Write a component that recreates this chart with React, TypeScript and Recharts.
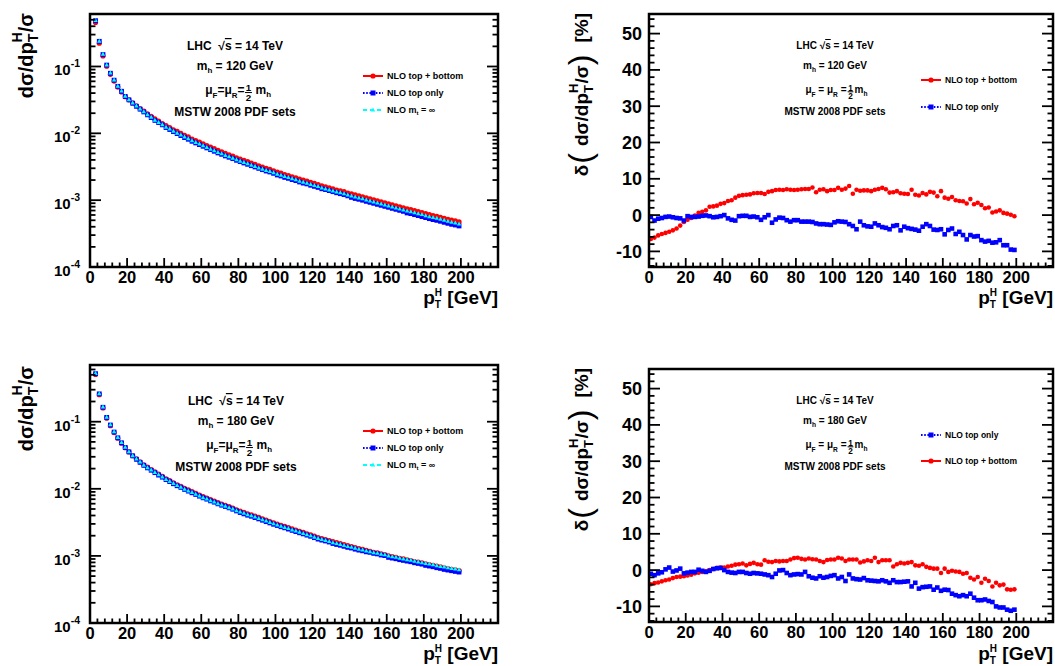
import React from 'react';
import { ScatterChart, Scatter, XAxis, YAxis } from 'recharts';

const FONT = "'Liberation Sans', Arial, Helvetica, sans-serif";
const W = 1055;
const H = 666;

// pT bin centres [GeV]
const PT = [
  1, 3, 5, 7, 9, 11, 13, 15, 17, 19, 21, 23, 25, 27, 29, 31, 33, 35, 37, 39,
  41, 43, 45, 47, 49, 51, 53, 55, 57, 59, 61, 63, 65, 67, 69, 71, 73, 75, 77, 79,
  81, 83, 85, 87, 89, 91, 93, 95, 97, 99, 101, 103, 105, 107, 109, 111, 113, 115, 117, 119,
  121, 123, 125, 127, 129, 131, 133, 135, 137, 139, 141, 143, 145, 147, 149, 151, 153, 155, 157, 159,
  161, 163, 165, 167, 169, 171, 173, 175, 177, 179, 181, 183, 185, 187, 189, 191, 193, 195, 197, 199,
];
// the distribution panels start at the second bin
const PT_DIST = PT.slice(1);

const X_TICKS = [
  0, 4, 8, 12, 16, 20, 24, 28, 32, 36, 40, 44, 48, 52, 56, 60, 64, 68, 72, 76, 80, 84, 88, 92, 96,
  100, 104, 108, 112, 116, 120, 124, 128, 132, 136, 140, 144, 148, 152, 156, 160, 164, 168, 172,
  176, 180, 184, 188, 192, 196, 200, 204, 208, 212, 216,
];
const LOG_TICKS_120 = [
  0.0001, 0.0002, 0.0003, 0.0004, 0.0005, 0.0006, 0.0007, 0.0008, 0.0009,
  0.001, 0.002, 0.003, 0.004, 0.005, 0.006, 0.007, 0.008, 0.009,
  0.01, 0.02, 0.03, 0.04, 0.05, 0.06, 0.07, 0.08, 0.09,
  0.1, 0.2, 0.3, 0.4, 0.5,
];
const LOG_TICKS_180 = [...LOG_TICKS_120, 0.6];
const DELTA_TICKS = [
  -14, -12, -10, -8, -6, -4, -2, 0, 2, 4, 6, 8, 10, 12, 14, 16, 18, 20, 22, 24, 26, 28, 30,
  32, 34, 36, 38, 40, 42, 44, 46, 48, 50, 52, 54,
];

// mh = 120 GeV, normalised distribution (bins 3..199)
const DIST120_TB = [
  0.456, 0.223, 0.144, 0.101, 0.0764, 0.0605, 0.0492, 0.0417, 0.0353, 0.0317,
  0.0285, 0.0258, 0.0234, 0.0215, 0.0196, 0.0179, 0.0164, 0.0152, 0.014, 0.013,
  0.0122, 0.0113, 0.0107, 0.00996, 0.00934, 0.00882, 0.00823, 0.00777, 0.00737, 0.00695,
  0.00657, 0.0062, 0.00589, 0.00555, 0.0053, 0.00501, 0.00478, 0.00457, 0.00431, 0.00412,
  0.00393, 0.00376, 0.00358, 0.00342, 0.00326, 0.00312, 0.00299, 0.00288, 0.00275, 0.00262,
  0.00254, 0.00242, 0.00234, 0.00224, 0.00216, 0.00207, 0.00199, 0.00193, 0.00184, 0.00178,
  0.00171, 0.00164, 0.00158, 0.00153, 0.00148, 0.00142, 0.00138, 0.00134, 0.00128, 0.00124,
  0.0012, 0.00116, 0.00112, 0.00108, 0.00105, 0.00101, 0.000976, 0.000943, 0.000911, 0.00088,
  0.00085, 0.000821, 0.000793, 0.000766, 0.00074, 0.000723, 0.000699, 0.000675, 0.000653, 0.00063,
  0.000609, 0.000589, 0.000575, 0.000555, 0.000536, 0.000518, 0.000501, 0.000489, 0.000473,
];
const DIST120_T = [
  0.485, 0.238, 0.151, 0.105, 0.0792, 0.0624, 0.0505, 0.0426, 0.0356, 0.0317,
  0.0282, 0.0254, 0.023, 0.0209, 0.0189, 0.0172, 0.0156, 0.0145, 0.0134, 0.0122,
  0.0114, 0.0106, 0.0099, 0.00925, 0.00863, 0.00815, 0.0076, 0.00718, 0.00678, 0.0064,
  0.00605, 0.0057, 0.00539, 0.00509, 0.00485, 0.00459, 0.00438, 0.00418, 0.00395, 0.00377,
  0.0036, 0.00344, 0.00328, 0.00314, 0.00299, 0.00286, 0.00273, 0.00264, 0.00252, 0.00238,
  0.0023, 0.00219, 0.00212, 0.00203, 0.00196, 0.00187, 0.0018, 0.00175, 0.00167, 0.00161,
  0.00155, 0.00148, 0.00144, 0.00139, 0.00134, 0.00129, 0.00125, 0.00121, 0.00116, 0.0011,
  0.00106, 0.00103, 0.000998, 0.00096, 0.000928, 0.000897, 0.000866, 0.000837, 0.000808, 0.000781,
  0.000754, 0.000729, 0.000704, 0.00068, 0.000644, 0.000629, 0.000607, 0.000587, 0.000567, 0.000548,
  0.000529, 0.000512, 0.000499, 0.000483, 0.000466, 0.00045, 0.000435, 0.000425, 0.000411,
];
const DIST120_MINF = [
  0.49, 0.24, 0.153, 0.106, 0.08, 0.063, 0.051, 0.043, 0.036, 0.032,
  0.0285, 0.0257, 0.0232, 0.0211, 0.0191, 0.0174, 0.0158, 0.0146, 0.0135, 0.0124,
  0.0116, 0.0108, 0.0101, 0.00944, 0.00881, 0.00832, 0.00776, 0.00733, 0.00692, 0.00653,
  0.00617, 0.00582, 0.0055, 0.00519, 0.00495, 0.00468, 0.00447, 0.00427, 0.00403, 0.00385,
  0.00367, 0.00351, 0.00335, 0.0032, 0.00305, 0.00292, 0.00279, 0.00269, 0.00257, 0.00245,
  0.00237, 0.00226, 0.00219, 0.00209, 0.00202, 0.00193, 0.00186, 0.0018, 0.00172, 0.00166,
  0.0016, 0.00153, 0.00148, 0.00143, 0.00138, 0.00133, 0.00129, 0.00125, 0.0012, 0.00116,
  0.00112, 0.00108, 0.00105, 0.00101, 0.000977, 0.000944, 0.000912, 0.000881, 0.000851, 0.000822,
  0.000794, 0.000767, 0.000741, 0.000716, 0.000692, 0.000676, 0.000653, 0.000631, 0.00061, 0.000589,
  0.000569, 0.00055, 0.000537, 0.000519, 0.000501, 0.000484, 0.000468, 0.000457, 0.000442,
];

// mh = 180 GeV
const DIST180_TB = [
  0.505, 0.253, 0.16, 0.113, 0.0872, 0.0688, 0.0567, 0.0479, 0.041, 0.0355,
  0.0311, 0.0279, 0.0252, 0.0228, 0.021, 0.0194, 0.0179, 0.0165, 0.0153, 0.0141,
  0.0132, 0.0123, 0.0115, 0.0109, 0.0102, 0.00961, 0.00907, 0.00857, 0.00809, 0.00763,
  0.00729, 0.00688, 0.00657, 0.00621, 0.00592, 0.00567, 0.00541, 0.00516, 0.00487, 0.00466,
  0.00445, 0.00424, 0.0041, 0.00391, 0.00374, 0.00357, 0.00341, 0.00325, 0.00311, 0.00299,
  0.00286, 0.00275, 0.00264, 0.00252, 0.00242, 0.00233, 0.00224, 0.00214, 0.00206, 0.00197,
  0.00187, 0.00181, 0.00175, 0.00169, 0.00163, 0.00158, 0.00152, 0.00147, 0.00142, 0.00138,
  0.00133, 0.00129, 0.00125, 0.00121, 0.00117, 0.00113, 0.00111, 0.00107, 0.00105, 0.001,
  0.000977, 0.000955, 0.000923, 0.000902, 0.000872, 0.000852, 0.000824, 0.000805, 0.000786, 0.00076,
  0.000744, 0.000726, 0.000702, 0.000686, 0.000663, 0.000648, 0.000633, 0.000619, 0.000602,
];
const DIST180_T = [
  0.52, 0.26, 0.164, 0.116, 0.0893, 0.0701, 0.0576, 0.0485, 0.0413, 0.0355,
  0.031, 0.0276, 0.0248, 0.0224, 0.0205, 0.0189, 0.0174, 0.016, 0.0149, 0.0137,
  0.0128, 0.0119, 0.0111, 0.0105, 0.00979, 0.00924, 0.00872, 0.00824, 0.00777, 0.00734,
  0.00701, 0.00661, 0.00632, 0.00597, 0.00569, 0.00545, 0.0052, 0.00496, 0.00468, 0.00443,
  0.00423, 0.00404, 0.0039, 0.00372, 0.00356, 0.0034, 0.00324, 0.0031, 0.00296, 0.00284,
  0.00272, 0.00262, 0.00251, 0.0024, 0.0023, 0.00221, 0.00213, 0.00204, 0.00196, 0.00187,
  0.00178, 0.00172, 0.00167, 0.00161, 0.00153, 0.00148, 0.00144, 0.00139, 0.00134, 0.00131,
  0.00126, 0.00122, 0.00119, 0.00115, 0.00113, 0.00109, 0.00107, 0.00103, 0.00101, 0.00095,
  0.000928, 0.000907, 0.000877, 0.000857, 0.000837, 0.000818, 0.00079, 0.000772, 0.000754, 0.000722,
  0.000706, 0.000689, 0.000666, 0.000651, 0.000629, 0.000615, 0.000601, 0.000587, 0.000574,
];
const DIST180_MINF = [
  0.525, 0.263, 0.166, 0.117, 0.0902, 0.0708, 0.0582, 0.049, 0.0417, 0.0359,
  0.0313, 0.0279, 0.0251, 0.0226, 0.0207, 0.0191, 0.0176, 0.0162, 0.015, 0.0138,
  0.0129, 0.012, 0.0112, 0.0106, 0.00989, 0.00933, 0.00881, 0.00832, 0.00785, 0.00741,
  0.00708, 0.00668, 0.00638, 0.00603, 0.00575, 0.0055, 0.00525, 0.00501, 0.00473, 0.00452,
  0.00432, 0.00412, 0.00398, 0.0038, 0.00363, 0.00347, 0.00331, 0.00316, 0.00302, 0.0029,
  0.00278, 0.00267, 0.00256, 0.00245, 0.00235, 0.00226, 0.00217, 0.00208, 0.002, 0.00191,
  0.00182, 0.00176, 0.0017, 0.00164, 0.00158, 0.00153, 0.00148, 0.00143, 0.00138, 0.00135,
  0.0013, 0.00126, 0.00123, 0.00119, 0.00116, 0.00112, 0.0011, 0.00106, 0.00104, 0.001,
  0.000977, 0.000955, 0.000923, 0.000902, 0.000881, 0.000861, 0.000832, 0.000813, 0.000794, 0.000776,
  0.000759, 0.000741, 0.000716, 0.0007, 0.000684, 0.000668, 0.000653, 0.000638, 0.000624,
];

// relative deviation from mt -> infinity [%], bins 1..199
const DELTA120_TB = [
  -6.6, -6.2, -5.6, -5.2, -4.9, -4.6, -4.2, -3.7, -2.9, -1.9,
  -1.3, -0.8, -0.1, 0.6, 0.9, 1.3, 2.3, 2.4, 2.6, 3.1,
  3.3, 3.9, 4.1, 4.8, 5.3, 5.5, 5.6, 5.7, 6.0, 6.1,
  6.1, 5.8, 6.4, 6.6, 6.9, 7.0, 6.9, 7.1, 7.0, 6.9,
  7.0, 7.1, 7.2, 7.2, 7.6, 6.3, 7.0, 7.1, 6.6, 6.9,
  6.9, 7.5, 7.0, 7.3, 8.0, 5.9, 7.0, 6.7, 6.8, 6.8,
  6.6, 7.0, 7.2, 7.5, 7.1, 6.2, 6.3, 6.6, 6.0, 5.9,
  5.8, 7.0, 5.6, 5.4, 6.1, 5.7, 6.4, 6.2, 5.2, 6.6,
  4.8, 4.5, 5.0, 4.1, 3.9, 3.8, 3.2, 4.4, 3.0, 3.4,
  2.8, 1.9, 2.1, 0.7, 1.0, 1.3, 0.6, 0.4, 0.1, -0.3,
];
const DELTA120_T = [
  -0.5, -1.5, -1.0, -0.8, -0.5, -0.4, -0.6, -0.8, -0.9, -1.5,
  -0.3, -0.5, -0.5, -0.4, -0.2, -0.1, -0.3, -0.6, -0.5, -0.3,
  0.0, -0.9, -1.3, -1.5, -0.3, -0.2, -0.2, -0.5, -0.4, -0.6,
  -1.3, -0.6, 0.0, -2.1, -1.2, -0.7, -0.8, -1.4, -1.8, -1.4,
  -1.4, -1.8, -1.8, -1.8, -1.9, -2.3, -2.5, -2.5, -2.6, -2.7,
  -2.0, -1.7, -1.8, -1.9, -2.5, -3.0, -3.9, -1.8, -2.8, -3.1,
  -3.2, -2.3, -2.8, -3.3, -3.5, -3.9, -3.0, -2.8, -4.2, -3.2,
  -3.6, -3.8, -4.0, -4.3, -3.2, -2.5, -3.0, -4.0, -4.1, -3.9,
  -5.3, -4.1, -3.7, -5.2, -4.6, -5.5, -6.7, -5.5, -5.9, -5.8,
  -6.9, -7.3, -7.1, -7.6, -7.5, -6.9, -8.3, -8.3, -9.5, -9.6,
];
const DELTA180_TB = [
  -3.9, -3.6, -3.4, -3.1, -2.8, -2.6, -2.2, -1.9, -1.8, -1.7,
  -1.5, -1.3, -0.9, -0.7, -0.5, -0.3, 0.0, 0.3, 0.6, 0.7,
  0.7, 1.0, 1.2, 1.5, 1.6, 1.8, 1.3, 1.7, 2.0, 1.6,
  1.5, 2.7, 2.3, 2.2, 2.5, 2.4, 2.5, 2.5, 2.9, 3.3,
  3.4, 3.1, 2.9, 3.2, 3.0, 2.9, 2.5, 2.2, 2.8, 2.9,
  2.9, 3.4, 3.2, 2.5, 2.9, 2.9, 2.9, 2.1, 2.4, 2.7,
  2.5, 3.4, 2.2, 2.7, 2.7, 2.7, 1.0, 1.6, 2.0, 1.8,
  2.0, 2.2, 1.3, 1.2, 1.6, 0.9, 0.6, 0.4, 0.4, -0.8,
  0.4, -0.5, -0.2, -0.4, -0.5, -1.0, -0.8, -2.1, -2.6, -1.9,
  -3.5, -2.4, -3.0, -4.5, -3.5, -4.2, -4.0, -5.3, -5.4, -5.3,
];
const DELTA180_T = [
  -1.0, -1.4, -0.9, -0.6, 0.2, 0.7, -0.4, -0.1, 0.4, -0.9,
  -0.7, -0.5, -0.5, 0.1, -0.2, -0.5, -0.2, 0.3, 0.5, 0.6,
  0.0, -0.5, -0.7, -0.8, -0.5, -0.5, -0.8, -1.0, -0.8, -0.9,
  -1.0, -1.2, -1.4, -1.9, -1.0, -0.1, 0.0, -0.8, -1.4, -1.2,
  -1.1, -1.2, -0.5, -1.7, -2.1, -2.3, -1.7, -2.1, -1.9, -1.6,
  -1.4, -2.3, -1.9, -3.0, -1.2, -2.3, -2.5, -2.6, -2.2, -2.8,
  -2.9, -3.0, -3.1, -2.8, -3.1, -3.5, -2.8, -3.3, -3.3, -3.2,
  -3.1, -4.5, -3.5, -5.1, -4.7, -4.6, -4.5, -5.4, -4.8, -5.7,
  -5.4, -5.5, -6.5, -6.9, -7.2, -6.9, -7.2, -6.5, -7.6, -8.3,
  -8.3, -8.1, -8.5, -8.8, -10.0, -10.3, -10.3, -10.9, -11.2, -10.9,
];

type Box = { x0: number; x1: number; y0: number; y1: number };
const TL: Box = { x0: 90, x1: 498, y0: 14, y1: 267 };
const BL: Box = { x0: 90, x1: 498, y0: 365, y1: 623 };
const TR: Box = { x0: 649, x1: 1053, y0: 14, y1: 267 };
const BR: Box = { x0: 649, x1: 1053, y0: 369, y1: 622 };

const RED = '#ff0000';
const BLUE = '#0000ff';
const CYAN = '#00ffff';

const pts = (xs: number[], ys: number[]) => xs.map((x, i) => ({ x, y: ys[i] }));

const txt = { fontFamily: FONT, fontWeight: 'bold' as const, fill: '#000' };

// ---- ticks (ROOT style: inward, on all four sides) ----
const xTick = (label: boolean, top: boolean) => (p: any) => {
  const v = p.payload.value;
  const major = v % 20 === 0;
  const len = major ? 9 : 4.5;
  return (
    <g>
      <line x1={p.x} x2={p.x} y1={p.y} y2={top ? p.y + len : p.y - len} stroke="#000" strokeWidth={1.8} />
      {label && major && v <= 200 && (
        <text x={p.x} y={p.y + 15.5} textAnchor="middle" fontSize={16.5} {...txt}>
          {v}
        </text>
      )}
    </g>
  );
};

const logTick = (label: boolean, right: boolean) => (p: any) => {
  const v = p.payload.value;
  const e = Math.log10(v);
  const major = Math.abs(e - Math.round(e)) < 1e-6;
  const len = major ? 11 : 5.5;
  return (
    <g>
      <line x1={p.x} x2={right ? p.x - len : p.x + len} y1={p.y} y2={p.y} stroke="#000" strokeWidth={1.8} />
      {label && major && (
        <text x={p.x - 10} y={p.y + 9} textAnchor="end" fontSize={15} {...txt}>
          10
          <tspan fontSize={10.5} dy={-8}>
            {Math.round(e)}
          </tspan>
        </text>
      )}
    </g>
  );
};

const linTick = (label: boolean, right: boolean) => (p: any) => {
  const v = p.payload.value;
  const major = v % 10 === 0;
  const len = major ? 11 : 5.5;
  return (
    <g>
      <line x1={p.x} x2={right ? p.x - len : p.x + len} y1={p.y} y2={p.y} stroke="#000" strokeWidth={1.8} />
      {label && major && (
        <text x={p.x - 7} y={p.y + 6.5} textAnchor="end" fontSize={18} {...txt}>
          {v}
        </text>
      )}
    </g>
  );
};

// ---- markers ----
const dot = (r: number) => (p: any) => <circle cx={p.cx} cy={p.cy} r={r} fill={RED} />;
const square = (s: number) => (p: any) => (
  <rect x={p.cx - s / 2} y={p.cy - s / 2} width={s} height={s} fill={BLUE} />
);
const tri = (p: any) => (
  <path d={`M${p.cx},${p.cy - 2.4}L${p.cx + 2.2},${p.cy + 1.6}L${p.cx - 2.2},${p.cy + 1.6}Z`} fill={CYAN} />
);

// axes are 1px thick so that recharts still draws them; margins absorb that pixel
const axisCommon = {
  axisLine: false,
  tickLine: false,
  tickSize: 0,
  tickMargin: 0,
  interval: 0 as const,
  allowDataOverflow: true,
};

function Frame({ box, children }: { box: Box; children: React.ReactNode }) {
  return (
    <div style={{ position: 'absolute', left: 0, top: 0 }}>
      <ScatterChart
        width={W}
        height={H}
        margin={{ left: box.x0 - 1, right: W - box.x1 - 1, top: box.y0 - 1, bottom: H - box.y1 - 1 }}
      >
        {children}
      </ScatterChart>
    </div>
  );
}

function DistChart({ box, yMax, ticks, tb, t, minf }: any) {
  return (
    <Frame box={box}>
      <XAxis dataKey="x" type="number" domain={[0, 220]} ticks={X_TICKS} height={1} tick={xTick(true, false)} {...axisCommon} />
      <XAxis xAxisId="top" orientation="top" type="number" domain={[0, 220]} ticks={X_TICKS} height={1} tick={xTick(false, true)} {...axisCommon} />
      <YAxis dataKey="y" type="number" scale="log" domain={[0.0001, yMax]} ticks={ticks} width={1} tick={logTick(true, false)} {...axisCommon} />
      <YAxis yAxisId="right" orientation="right" type="number" scale="log" domain={[0.0001, yMax]} ticks={ticks} width={1} tick={logTick(false, true)} {...axisCommon} />
      <Scatter data={pts(PT_DIST, tb)} shape={dot(2.6)} isAnimationActive={false} />
      <Scatter data={pts(PT_DIST, t)} shape={square(4.8)} isAnimationActive={false} />
      <Scatter data={pts(PT_DIST, minf)} shape={tri} isAnimationActive={false} />
    </Frame>
  );
}

function DeltaChart({ box, tb, t }: any) {
  return (
    <Frame box={box}>
      <XAxis dataKey="x" type="number" domain={[0, 220]} ticks={X_TICKS} height={1} tick={xTick(true, false)} {...axisCommon} />
      <XAxis xAxisId="top" orientation="top" type="number" domain={[0, 220]} ticks={X_TICKS} height={1} tick={xTick(false, true)} {...axisCommon} />
      <YAxis dataKey="y" type="number" domain={[-14.3, 55.4]} ticks={DELTA_TICKS} width={1} tick={linTick(true, false)} {...axisCommon} />
      <YAxis yAxisId="right" orientation="right" type="number" domain={[-14.3, 55.4]} ticks={DELTA_TICKS} width={1} tick={linTick(false, true)} {...axisCommon} />
      <Scatter data={pts(PT, tb)} shape={dot(2.3)} isAnimationActive={false} />
      <Scatter data={pts(PT, t)} shape={square(4.6)} isAnimationActive={false} />
    </Frame>
  );
}

// ---- overlay text ----
function Border({ box }: { box: Box }) {
  return <rect x={box.x0} y={box.y0} width={box.x1 - box.x0} height={box.y1 - box.y0} fill="none" stroke="#000" strokeWidth={2.5} />;
}

function PtTitle({ x, y }: { x: number; y: number }) {
  return (
    <text x={x} y={y} textAnchor="end" fontSize={19} {...txt}>
      p<tspan fontSize={10} dy={4}>T</tspan>
      <tspan fontSize={10} dx={-6.1} dy={-11.5}>H</tspan>
      <tspan dy={7.5}>{'\u00a0[GeV]'}</tspan>
    </text>
  );
}

function DistTitle({ x, y }: { x: number; y: number }) {
  return (
    <text transform={`translate(${x},${y}) rotate(-90)`} textAnchor="end" fontSize={20} {...txt}>
      dσ/dp<tspan fontSize={14} dy={5}>T</tspan>
      <tspan fontSize={14} dx={-8.6} dy={-16}>H</tspan>
      <tspan dy={11}>/σ</tspan>
    </text>
  );
}

function DeltaTitle({ x, y }: { x: number; y: number }) {
  return (
    <text transform={`translate(${x},${y}) rotate(-90)`} textAnchor="end" fontSize={19} {...txt}>
      δ
      <tspan fontWeight="normal" fontSize={32} dx={1} dy={3}>(</tspan>
      <tspan dx={7} dy={-3}>dσ/dp</tspan>
      <tspan fontSize={13} dy={5}>T</tspan>
      <tspan fontSize={13} dx={-7.9} dy={-15}>H</tspan>
      <tspan dy={10}>/σ</tspan>
      <tspan fontWeight="normal" fontSize={32} dy={3}>)</tspan>
      <tspan dx={12} dy={-3}>[%]</tspan>
    </text>
  );
}

function Notes({ cx, oy, mh, fs, fracX, sp }: { cx: number; oy: number; mh: string; fs: number; fracX: number; sp: string }) {
  const sub = fs * 0.66;
  const fr = fs * 0.82;
  const big = fs === 12;
  const by = big ? [50, 70, 94, 116] : [49, 69, 93, 115];
  return (
    <g fontSize={fs} {...txt}>
      <text x={cx} y={oy + by[0]} textAnchor="middle">
        {big ? 'LHC\u00a0\u00a0√' : 'LHC √'}
        <tspan style={{ textDecoration: 'overline' }}>s</tspan> = 14 TeV
      </text>
      <text x={cx} y={oy + by[1]} textAnchor="middle">
        m<tspan fontSize={sub} dy={3}>h</tspan>
        <tspan dy={-3}>{` = ${mh} GeV`}</tspan>
      </text>
      <text x={fracX - 4} y={oy + by[2]} textAnchor="end">
        μ<tspan fontSize={sub} dy={4}>F</tspan>
        <tspan dy={-4}>{`${sp}=${sp}μ`}</tspan>
        <tspan fontSize={sub} dy={4}>R</tspan>
        <tspan dy={-4}>{`${sp}=`}</tspan>
      </text>
      <text x={fracX} y={oy + by[2] - fs * 0.25} textAnchor="middle" fontSize={fr}>1</text>
      <line x1={fracX - fr * 0.35} x2={fracX + fr * 0.35} y1={oy + by[2] - fs * 0.12} y2={oy + by[2] - fs * 0.12} stroke="#000" strokeWidth={1} />
      <text x={fracX} y={oy + by[2] + fs * 0.55} textAnchor="middle" fontSize={fr}>2</text>
      <text x={fracX + (big ? 7 : 4)} y={oy + by[2]}>
        m<tspan fontSize={sub} dy={3}>h</tspan>
      </text>
      <text x={cx} y={oy + by[3]} textAnchor="middle">MSTW 2008 PDF sets</text>
    </g>
  );
}

function LegendRow({ x, y, kind, fs, children }: { x: number; y: number; kind: 'tb' | 't' | 'inf'; fs: number; children: React.ReactNode }) {
  const color = kind === 'tb' ? RED : kind === 't' ? BLUE : CYAN;
  const dash = kind === 'tb' ? undefined : kind === 't' ? '1.6 1.6' : '4 3';
  const m = x + 10;
  return (
    <g>
      <line x1={x} x2={x + 20} y1={y} y2={y} stroke={color} strokeWidth={2} strokeDasharray={dash} />
      {kind === 'tb' && <circle cx={m} cy={y} r={2.6} fill={RED} />}
      {kind === 't' && <rect x={m - 2.5} y={y - 2.5} width={5} height={5} fill={BLUE} />}
      {kind === 'inf' && <path d={`M${m},${y - 2.4}L${m + 2.2},${y + 1.6}L${m - 2.2},${y + 1.6}Z`} fill={CYAN} />}
      <text x={x + 24} y={y + 3.3} fontSize={fs} {...txt}>
        {children}
      </text>
    </g>
  );
}

const MinfLabel = () => (
  <>
    NLO m<tspan fontSize={6} dy={2}>t</tspan>
    <tspan dy={-2}>{' = ∞'}</tspan>
  </>
);

export default function App() {
  return (
    <div style={{ position: 'absolute', left: 0, top: 0, width: W, height: H, background: '#fff' }}>
      <DistChart box={TL} yMax={0.61} ticks={LOG_TICKS_120} tb={DIST120_TB} t={DIST120_T} minf={DIST120_MINF} />
      <DistChart box={BL} yMax={0.7} ticks={LOG_TICKS_180} tb={DIST180_TB} t={DIST180_T} minf={DIST180_MINF} />
      <DeltaChart box={TR} tb={DELTA120_TB} t={DELTA120_T} />
      <DeltaChart box={BR} tb={DELTA180_TB} t={DELTA180_T} />
      <svg width={W} height={H} style={{ position: 'absolute', left: 0, top: 0, pointerEvents: 'none' }}>
        <Border box={TL} />
        <Border box={BL} />
        <Border box={TR} />
        <Border box={BR} />

        <DistTitle x={33} y={13} />
        <DistTitle x={33} y={366} />
        <DeltaTitle x={588} y={13} />
        <DeltaTitle x={588} y={368} />

        <PtTitle x={498} y={303.5} />
        <PtTitle x={1053} y={303.5} />
        <PtTitle x={498} y={659.5} />
        <PtTitle x={1053} y={659.5} />

        <Notes cx={235} oy={0} mh="120" fs={12} fracX={248.5} sp="" />
        <Notes cx={236} oy={355} mh="180" fs={12} fracX={249.5} sp="" />
        <Notes cx={835} oy={0} mh="120" fs={10} fracX={850.5} sp={'\u00a0'} />
        <Notes cx={835} oy={355} mh="180" fs={10} fracX={850.5} sp={'\u00a0'} />

        <LegendRow x={363} y={76} kind="tb" fs={9}>NLO top + bottom</LegendRow>
        <LegendRow x={363} y={93} kind="t" fs={9}>NLO top only</LegendRow>
        <LegendRow x={363} y={110} kind="inf" fs={9}><MinfLabel /></LegendRow>

        <LegendRow x={363} y={431} kind="tb" fs={9}>NLO top + bottom</LegendRow>
        <LegendRow x={363} y={448} kind="t" fs={9}>NLO top only</LegendRow>
        <LegendRow x={363} y={465} kind="inf" fs={9}><MinfLabel /></LegendRow>

        <LegendRow x={921} y={80} kind="tb" fs={8.5}>NLO top + bottom</LegendRow>
        <LegendRow x={921} y={107} kind="t" fs={8.5}>NLO top only</LegendRow>

        <LegendRow x={921} y={435} kind="t" fs={8.5}>NLO top only</LegendRow>
        <LegendRow x={921} y={461} kind="tb" fs={8.5}>NLO top + bottom</LegendRow>
      </svg>
    </div>
  );
}
